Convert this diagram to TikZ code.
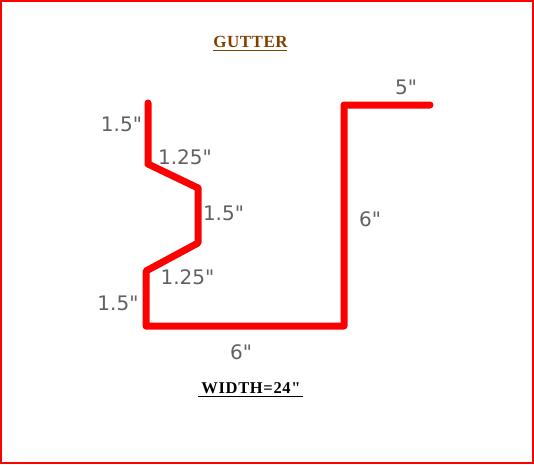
\documentclass[tikz,border=0pt]{standalone}
\usepackage{fontspec}
\setmainfont{Liberation Serif}
\newfontfamily\dimfont{DejaVu Sans}
\newfontfamily\capfont[LetterSpace=3]{Liberation Serif}
\newfontfamily\widthfont[LetterSpace=4]{Liberation Serif}
\definecolor{titlebrown}{RGB}{128,64,0}
\tikzset{
	gutterline/.style={draw=red,line width=7pt,line cap=round,line join=round},
	dimlabel/.style={font=\dimfont\fontsize{20}{20}\selectfont,text=black!62,inner sep=0pt},
	caption/.style={font=\capfont\fontsize{17}{17}\selectfont,inner sep=0pt},
	widthcaption/.style={font=\widthfont\bfseries\fontsize{16.5}{17}\selectfont,inner sep=0pt}
}
\begin{document}
\begin{tikzpicture}[x=1pt,y=-1pt]
			\useasboundingbox (0,0) rectangle (534,464);
			\draw[red,line width=2pt] (1,1) rectangle (533,463);
			\coordinate (lipTop) at (148,103);
			\coordinate (lipBend) at (148,164);
			\coordinate (upperOut) at (198,188);
			\coordinate (lowerOut) at (198,243);
			\coordinate (lowerBend) at (146,271);
			\coordinate (cornerLeft) at (146,326);
			\coordinate (cornerRight) at (344,326);
			\coordinate (cornerTop) at (344,105);
			\coordinate (flangeEnd) at (430,105);
			\draw[gutterline] (lipTop) -- (lipBend) -- (upperOut) -- (lowerOut) -- (lowerBend) -- (cornerLeft) -- (cornerRight) -- (cornerTop) -- (flangeEnd);
			\node[caption,text=titlebrown] (title) at (250.5,42) {\bfseries GUTTER};
			\node[widthcaption,text=black] (width) at (251,388) {WIDTH=24"};
			\draw[titlebrown,line width=1pt] (213,50) -- (287,50);
			\draw[black,line width=1pt] (198,396) -- (303,396);
			\node[dimlabel] (lipDim) at (121.5,124) {1.5"};
			\node[dimlabel] (upperDim) at (185,157) {1.25"};
			\node[dimlabel] (webDim) at (223.5,213) {1.5"};
			\node[dimlabel] (lowerDim) at (187.5,277) {1.25"};
			\node[dimlabel] (backDim) at (118,303) {1.5"};
			\node[dimlabel] (baseDim) at (241,352) {6"};
			\node[dimlabel] (faceDim) at (370,219) {6"};
			\node[dimlabel] (flangeDim) at (406,87) {5"};
\end{tikzpicture}
\end{document}
